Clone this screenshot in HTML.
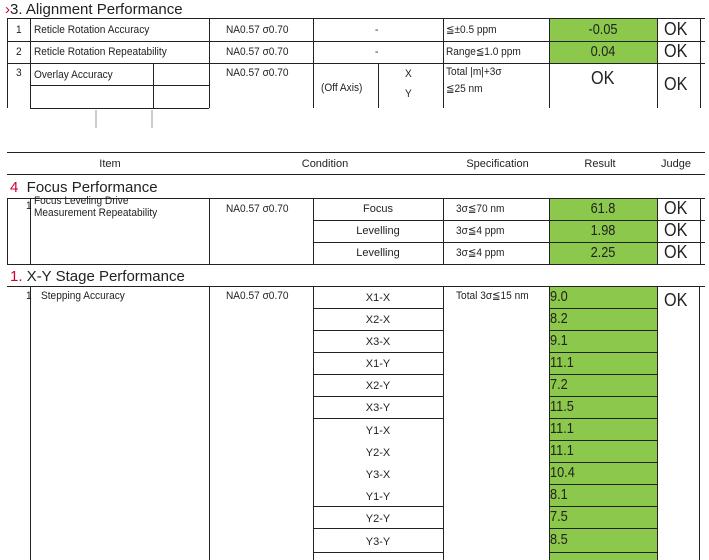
<!DOCTYPE html>
<html><head><meta charset="utf-8"><style>
body{margin:0;width:709px;height:560px;background:#fff;position:relative;overflow:hidden;font-family:"Liberation Sans",sans-serif;color:#222}
.h{position:absolute;height:1px;background:#222}
.v{position:absolute;width:1px;background:#222}
.g{position:absolute;background:#8cc84b}
.t{position:absolute;font-size:11px;white-space:nowrap;line-height:13px;transform:scaleX(0.92);transform-origin:left}
.c{position:absolute;font-size:11px;white-space:nowrap;line-height:13px;text-align:center}
.r{position:absolute;font-size:15px;line-height:16px;text-align:center;width:108px;transform:scaleX(0.85)}
.rl{position:absolute;font-size:15px;line-height:17px;left:550px;transform:scaleX(0.85);transform-origin:left}
.ok{position:absolute;font-size:18px;line-height:18px;left:664px;transform:scaleX(0.9);transform-origin:left}
.ti{position:absolute;font-size:15px;line-height:17px;white-space:nowrap}
</style></head><body>
<div class="ti" style="left:5px;top:1px"><span style="color:#c03">›</span>3. Alignment Performance</div>
<div class="g" style="left:550px;top:19px;width:107px;height:44px"></div>
<div class="h" style="left:7px;top:18px;width:698px"></div>
<div class="h" style="left:7px;top:41px;width:698px"></div>
<div class="h" style="left:7px;top:63px;width:698px"></div>
<div class="h" style="left:30px;top:85px;width:179px"></div>
<div class="h" style="left:30px;top:108px;width:179px"></div>
<div class="v" style="left:7px;top:18px;height:90px"></div>
<div class="v" style="left:30px;top:18px;height:90px"></div>
<div class="v" style="left:153px;top:63px;height:45px"></div>
<div class="v" style="left:209px;top:18px;height:90px"></div>
<div class="v" style="left:313px;top:18px;height:90px"></div>
<div class="v" style="left:378px;top:63px;height:45px"></div>
<div class="v" style="left:443px;top:18px;height:90px"></div>
<div class="v" style="left:549px;top:18px;height:90px"></div>
<div class="v" style="left:657px;top:18px;height:90px"></div>
<div class="v" style="left:700px;top:18px;height:90px"></div>
<div style="position:absolute;left:95px;top:110px;width:2px;height:18px;background:#ccc"></div>
<div style="position:absolute;left:151px;top:110px;width:2px;height:18px;background:#ccc"></div>
<div class="t" style="left:16px;top:24px">1</div><div class="t" style="left:34px;top:24px">Reticle Rotation Accuracy</div>
<div class="t" style="left:16px;top:46px">2</div><div class="t" style="left:34px;top:46px">Reticle Rotation Repeatability</div>
<div class="t" style="left:16px;top:67px">3</div><div class="t" style="left:34px;top:69px">Overlay Accuracy</div>
<div class="t" style="left:226px;top:24px">NA0.57 σ0.70</div>
<div class="t" style="left:226px;top:46px">NA0.57 σ0.70</div>
<div class="t" style="left:226px;top:67px">NA0.57 σ0.70</div>
<div class="t" style="left:375px;top:24px">-</div><div class="t" style="left:375px;top:46px">-</div>
<div class="t" style="left:321px;top:82px">(Off Axis)</div>
<div class="t" style="left:405px;top:68px">X</div><div class="t" style="left:405px;top:88px">Y</div>
<div class="t" style="left:446px;top:24px">≦±0.5 ppm</div>
<div class="t" style="left:446px;top:46px">Range≦1.0 ppm</div>
<div class="t" style="left:446px;top:66px">Total |m|+3σ</div>
<div class="t" style="left:446px;top:83px">≦25 nm</div>
<div class="r" style="left:549px;top:22px">-0.05</div>
<div class="r" style="left:549px;top:44px">0.04</div>
<div class="ok" style="left:591px;top:69px">OK</div>
<div class="ok" style="top:20px">OK</div><div class="ok" style="top:42px">OK</div><div class="ok" style="top:75px">OK</div>

<div class="h" style="left:7px;top:152px;width:698px"></div>
<div class="h" style="left:7px;top:174px;width:698px"></div>
<div class="c" style="left:80px;top:158px;width:60px">Item</div>
<div class="c" style="left:295px;top:158px;width:60px">Condition</div>
<div class="c" style="left:460px;top:158px;width:75px">Specification</div>
<div class="c" style="left:570px;top:158px;width:60px">Result</div>
<div class="c" style="left:660px;top:158px;width:32px">Judge</div>

<div class="ti" style="left:10px;top:179px"><span style="color:#c03">4</span>&nbsp; Focus Performance</div>
<div class="g" style="left:550px;top:199px;width:107px;height:65px"></div>
<div class="h" style="left:7px;top:198px;width:698px"></div>
<div class="h" style="left:313px;top:220px;width:392px"></div>
<div class="h" style="left:313px;top:242px;width:392px"></div>
<div class="h" style="left:7px;top:264px;width:698px"></div>
<div class="v" style="left:7px;top:198px;height:66px"></div>
<div class="v" style="left:30px;top:198px;height:66px"></div>
<div class="v" style="left:209px;top:198px;height:66px"></div>
<div class="v" style="left:313px;top:198px;height:66px"></div>
<div class="v" style="left:443px;top:198px;height:66px"></div>
<div class="v" style="left:549px;top:198px;height:66px"></div>
<div class="v" style="left:657px;top:198px;height:66px"></div>
<div class="v" style="left:700px;top:198px;height:66px"></div>
<div class="t" style="left:26px;top:200px">1</div>
<div class="t" style="left:34px;top:195px">Focus Leveling Drive</div>
<div class="t" style="left:34px;top:207px">Measurement Repeatability</div>
<div class="t" style="left:226px;top:203px">NA0.57 σ0.70</div>
<div class="c" style="left:313px;top:203px;width:130px">Focus</div>
<div class="c" style="left:313px;top:225px;width:130px">Levelling</div>
<div class="c" style="left:313px;top:247px;width:130px">Levelling</div>
<div class="t" style="left:456px;top:203px">3σ≦70 nm</div>
<div class="t" style="left:456px;top:225px">3σ≦4 ppm</div>
<div class="t" style="left:456px;top:247px">3σ≦4 ppm</div>
<div class="r" style="left:549px;top:201px">61.8</div>
<div class="r" style="left:549px;top:223px">1.98</div>
<div class="r" style="left:549px;top:245px">2.25</div>
<div class="ok" style="top:199px">OK</div><div class="ok" style="top:221px">OK</div><div class="ok" style="top:243px">OK</div>

<div class="ti" style="left:10px;top:268px"><span style="color:#c03">1.</span> X-Y Stage Performance</div>
<div class="g" style="left:550px;top:287px;width:107px;height:273px"></div>
<div class="h" style="left:7px;top:286px;width:698px"></div>
<div class="v" style="left:30px;top:286px;height:274px"></div>
<div class="v" style="left:209px;top:286px;height:274px"></div>
<div class="v" style="left:313px;top:286px;height:274px"></div>
<div class="v" style="left:443px;top:286px;height:274px"></div>
<div class="v" style="left:549px;top:286px;height:274px"></div>
<div class="v" style="left:657px;top:286px;height:274px"></div>
<div class="v" style="left:699px;top:286px;height:274px"></div>
<div class="h" style="left:313px;top:308px;width:130px"></div>
<div class="h" style="left:313px;top:330px;width:130px"></div>
<div class="h" style="left:313px;top:352px;width:130px"></div>
<div class="h" style="left:313px;top:374px;width:130px"></div>
<div class="h" style="left:313px;top:396px;width:130px"></div>
<div class="h" style="left:313px;top:418px;width:130px"></div>
<div class="h" style="left:313px;top:506px;width:130px"></div>
<div class="h" style="left:313px;top:528px;width:130px"></div>
<div class="h" style="left:313px;top:552px;width:130px"></div>
<div class="h" style="left:549px;top:308px;width:108px"></div>
<div class="h" style="left:549px;top:330px;width:108px"></div>
<div class="h" style="left:549px;top:352px;width:108px"></div>
<div class="h" style="left:549px;top:374px;width:108px"></div>
<div class="h" style="left:549px;top:396px;width:108px"></div>
<div class="h" style="left:549px;top:418px;width:108px"></div>
<div class="h" style="left:549px;top:440px;width:108px"></div>
<div class="h" style="left:549px;top:462px;width:108px"></div>
<div class="h" style="left:549px;top:484px;width:108px"></div>
<div class="h" style="left:549px;top:506px;width:108px"></div>
<div class="h" style="left:549px;top:528px;width:108px"></div>
<div class="h" style="left:549px;top:552px;width:108px"></div>
<div class="t" style="left:26px;top:290px">1</div>
<div class="t" style="left:41px;top:290px">Stepping Accuracy</div>
<div class="t" style="left:226px;top:290px">NA0.57 σ0.70</div>
<div class="t" style="left:456px;top:290px">Total 3σ≦15 nm</div>
<div class="c" style="left:313px;top:292px;width:130px">X1-X</div>
<div class="c" style="left:313px;top:314px;width:130px">X2-X</div>
<div class="c" style="left:313px;top:336px;width:130px">X3-X</div>
<div class="c" style="left:313px;top:358px;width:130px">X1-Y</div>
<div class="c" style="left:313px;top:380px;width:130px">X2-Y</div>
<div class="c" style="left:313px;top:402px;width:130px">X3-Y</div>
<div class="c" style="left:313px;top:425px;width:130px">Y1-X</div>
<div class="c" style="left:313px;top:447px;width:130px">Y2-X</div>
<div class="c" style="left:313px;top:469px;width:130px">Y3-X</div>
<div class="c" style="left:313px;top:491px;width:130px">Y1-Y</div>
<div class="c" style="left:313px;top:513px;width:130px">Y2-Y</div>
<div class="c" style="left:313px;top:536px;width:130px">Y3-Y</div>
<div class="rl" style="top:288px">9.0</div>
<div class="rl" style="top:310px">8.2</div>
<div class="rl" style="top:332px">9.1</div>
<div class="rl" style="top:354px">11.1</div>
<div class="rl" style="top:376px">7.2</div>
<div class="rl" style="top:398px">11.5</div>
<div class="rl" style="top:420px">11.1</div>
<div class="rl" style="top:442px">11.1</div>
<div class="rl" style="top:464px">10.4</div>
<div class="rl" style="top:486px">8.1</div>
<div class="rl" style="top:508px">7.5</div>
<div class="rl" style="top:531px">8.5</div>
<div class="ok" style="top:291px">OK</div>
</body></html>
